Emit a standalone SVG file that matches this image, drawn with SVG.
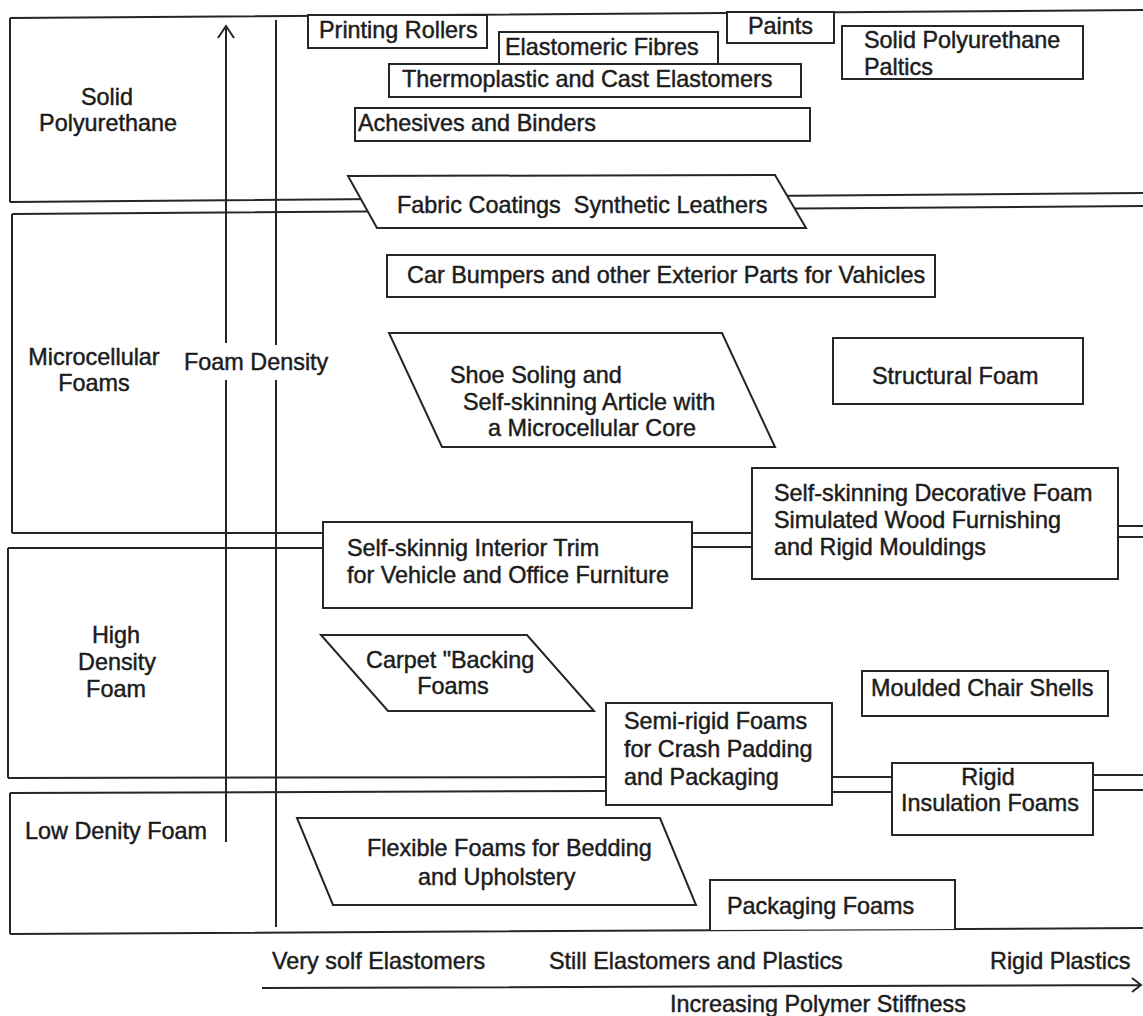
<svg xmlns="http://www.w3.org/2000/svg" width="1143" height="1016" viewBox="0 0 1143 1016">
<style>
.ln{stroke:#262626;stroke-width:2;fill:none}
.bx{stroke:#262626;stroke-width:2;fill:#fff}
text{font-family:"Liberation Sans",Arial,sans-serif;font-size:23.4px;fill:#1c1c1c;stroke:#1c1c1c;stroke-width:0.45}
.c{text-anchor:middle}
</style>
<rect width="1143" height="1016" fill="#fff"/>
<g id="bands">
<path class="ln" d="M10,18 L1143,10 M10,18 L10,202 M10,202 L1143,193"/>
<path class="ln" d="M12,214 L1143,206 M12,214 L12,533 M12,533 L323,533 M692,533 L752,533 M1118,526 L1143,526"/>
<path class="ln" d="M8,548 L323,548 M692,547 L752,547 M1118,537 L1143,537 M8,548 L8,778 M8,778 L606,777 M832,777 L892,777 M1093,775 L1143,775"/>
<path class="ln" d="M10,793 L606,791 M832,792 L892,792 M1093,790 L1143,790 M10,793 L10,934 M10,934 L1143,928"/>
</g>
<g id="connectors">
<path class="ln" d="M226,27 L226,343 M226,380 L226,842 M218,38 L226,26 L234,38"/>
<path class="ln" d="M276,20 L276,345 M276,380 L276,927"/>
<path class="ln" d="M262,988 L1140,985 M1132,978 L1141,985 L1132,992"/>
</g>
<g id="labels">
<text class="c" x="107" y="105">Solid</text>
<text class="c" x="108" y="131">Polyurethane</text>
<text class="c" x="94" y="365">Microcellular</text>
<text class="c" x="94" y="391">Foams</text>
<text x="184" y="370">Foam Density</text>
<text class="c" x="116" y="643">High</text>
<text class="c" x="117" y="670">Density</text>
<text class="c" x="116" y="697">Foam</text>
<text x="25" y="839">Low Denity Foam</text>
<text x="272" y="969">Very solf Elastomers</text>
<text x="549" y="969">Still Elastomers and Plastics</text>
<text x="990" y="969">Rigid Plastics</text>
<text x="670" y="1012">Increasing Polymer Stiffness</text>
</g>
<g id="printing-rollers"><rect class="bx" x="308" y="15" width="179" height="33"/><text x="319" y="38">Printing Rollers</text></g>
<g id="elastomeric-fibres"><rect class="bx" x="499" y="32" width="219" height="32"/><text x="505" y="55">Elastomeric Fibres</text></g>
<g id="paints"><rect class="bx" x="727" y="12" width="107" height="31"/><text x="748" y="34">Paints</text></g>
<g id="solid-pu-plastics"><rect class="bx" x="842" y="26" width="241" height="53"/><text x="864" y="48">Solid Polyurethane</text><text x="864" y="75">Paltics</text></g>
<g id="thermoplastic"><rect class="bx" x="389" y="64" width="412" height="33"/><text x="402" y="87">Thermoplastic and Cast Elastomers</text></g>
<g id="adhesives"><rect class="bx" x="355" y="108" width="455" height="33"/><text x="358" y="131">Achesives and Binders</text></g>
<g id="fabric-coatings"><polygon class="bx" points="348,176 775,175 806,228 377,228"/><text x="397" y="213" xml:space="preserve">Fabric Coatings  Synthetic Leathers</text></g>
<g id="car-bumpers"><rect class="bx" x="387" y="255" width="548" height="42"/><text x="407" y="283">Car Bumpers and other Exterior Parts for Vahicles</text></g>
<g id="shoe-soling"><polygon class="bx" points="389,333 722,333 775,447 442,447"/><text x="450" y="383">Shoe Soling and</text><text x="463" y="410">Self-skinning Article with</text><text x="488" y="436">a Microcellular Core</text></g>
<g id="structural-foam"><rect class="bx" x="833" y="338" width="250" height="66"/><text x="872" y="384">Structural Foam</text></g>
<g id="decorative-foam"><rect class="bx" x="752" y="468" width="366" height="111"/><text x="774" y="501">Self-skinning Decorative Foam</text><text x="774" y="528">Simulated Wood Furnishing</text><text x="774" y="555">and Rigid Mouldings</text></g>
<g id="interior-trim"><rect class="bx" x="323" y="522" width="369" height="86"/><text x="347" y="556">Self-skinnig Interior Trim</text><text x="347" y="583">for Vehicle and Office Furniture</text></g>
<g id="carpet-backing"><polygon class="bx" points="321,635 527,635 594,711 388,711"/><text x="366" y="668">Carpet "Backing</text><text class="c" x="453" y="694">Foams</text></g>
<g id="semi-rigid"><rect class="bx" x="606" y="703" width="226" height="102"/><text x="624" y="729">Semi-rigid Foams</text><text x="624" y="757">for Crash Padding</text><text x="624" y="785">and Packaging</text></g>
<g id="moulded-chair"><rect class="bx" x="862" y="671" width="246" height="45"/><text x="871" y="696">Moulded Chair Shells</text></g>
<g id="rigid-insulation"><rect class="bx" x="892" y="763" width="201" height="72"/><text class="c" x="988" y="785">Rigid</text><text class="c" x="990" y="811">Insulation Foams</text></g>
<g id="flexible-foams"><polygon class="bx" points="297,818 660,818 696,905 333,905"/><text x="367" y="856">Flexible Foams for Bedding</text><text x="418" y="885">and Upholstery</text></g>
<g id="packaging-foams"><path class="bx" d="M710,930 L710,880 L955,880 L955,929"/><text x="727" y="914">Packaging Foams</text></g>
</svg>
